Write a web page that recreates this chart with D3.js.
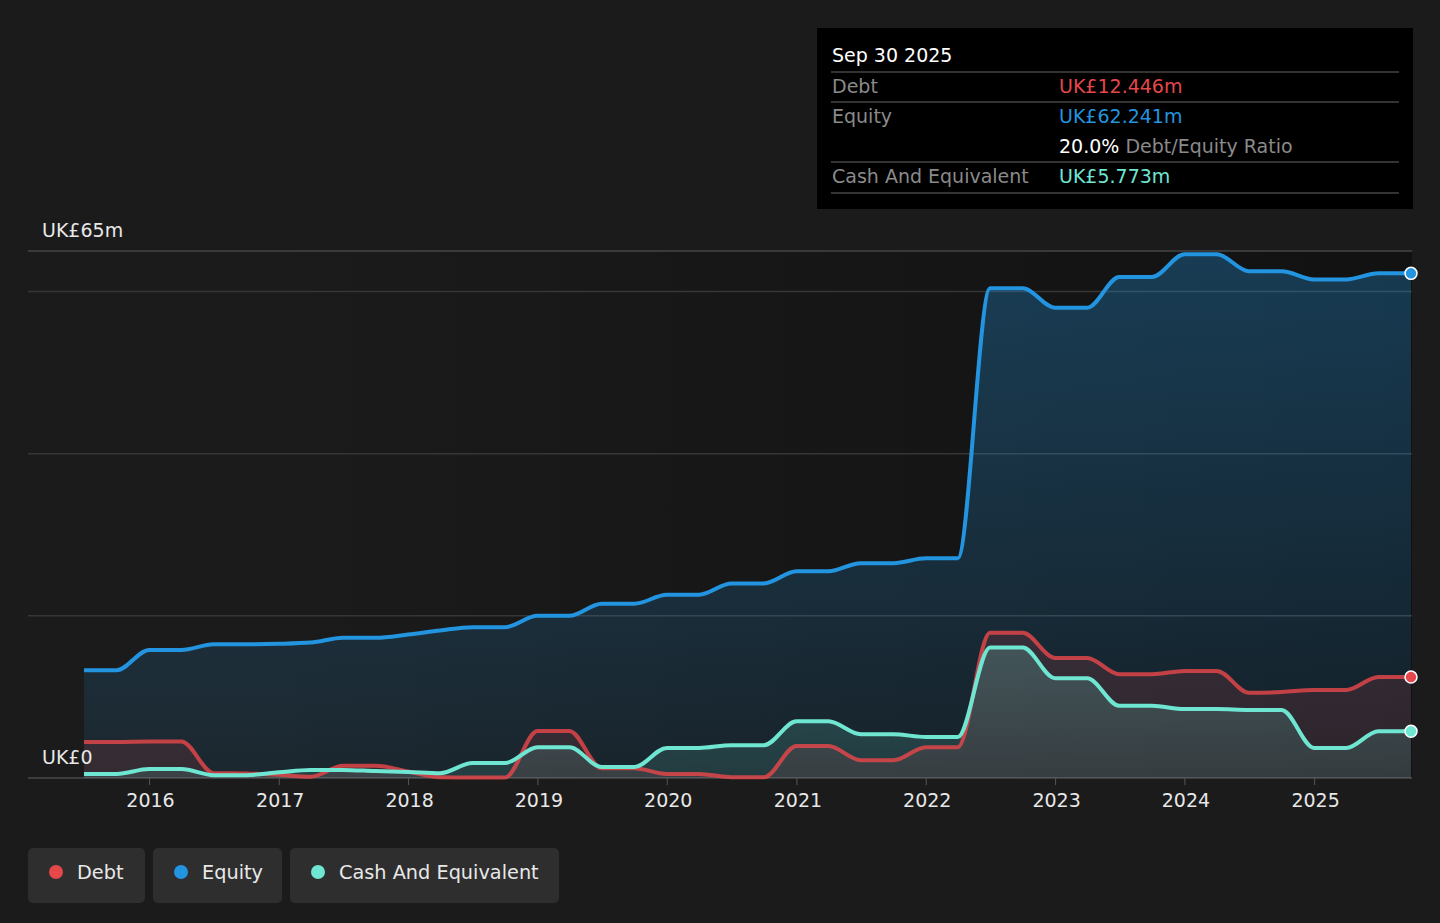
<!DOCTYPE html>
<html>
<head>
<meta charset="utf-8">
<script src="https://cdn.jsdelivr.net/npm/d3@7"></script>
<style>
  html, body { margin: 0; padding: 0; background: #1b1b1b; }
  svg { display: block; font-family: "DejaVu Sans", sans-serif; }
</style>
</head>
<body>
<svg id="chart" width="1440" height="923"></svg>
<script>
const dates = [
  "2015-06-30","2015-09-30","2015-12-31","2016-03-31","2016-06-30","2016-09-30",
  "2016-12-31","2017-03-31","2017-06-30","2017-09-30","2017-12-31","2018-03-31",
  "2018-06-30","2018-09-30","2018-12-31","2019-03-31","2019-06-30","2019-09-30",
  "2019-12-31","2020-03-31","2020-06-30","2020-09-30","2020-12-31","2021-03-31",
  "2021-06-30","2021-09-30","2021-12-31","2022-03-31","2022-06-30","2022-09-30",
  "2022-12-31","2023-03-31","2023-06-30","2023-09-30","2023-12-31","2024-03-31",
  "2024-06-30","2024-09-30","2024-12-31","2025-03-31","2025-06-30","2025-09-30"
];
const equity = [
  13.3, 13.3, 15.8, 15.8, 16.5, 16.5,
  16.55, 16.7, 17.3, 17.3, 17.7, 18.2,
  18.6, 18.6, 20.0, 20.0, 21.5, 21.5,
  22.6, 22.6, 24.0, 24.0, 25.5, 25.5,
  26.5, 26.5, 27.1, 27.1, 60.4, 60.4,
  58.0, 58.0, 61.8, 61.8, 64.6, 64.6,
  62.5, 62.5, 61.5, 61.5, 62.241, 62.241
];
const debt = [
  4.45, 4.45, 4.5, 4.5, 0.6, 0.55,
  0.4, 0.15, 1.5, 1.5, 0.8, 0.1,
  0.05, 0.05, 5.8, 5.8, 1.2, 1.2,
  0.5, 0.5, 0.1, 0.1, 3.95, 3.95,
  2.2, 2.2, 3.8, 3.8, 17.9, 17.9,
  14.8, 14.8, 12.8, 12.8, 13.2, 13.2,
  10.5, 10.6, 10.85, 10.85, 12.446, 12.446
];
const cash = [
  0.5, 0.5, 1.1, 1.1, 0.35, 0.35,
  0.7, 1.0, 1.0, 0.85, 0.75, 0.6,
  1.85, 1.85, 3.8, 3.8, 1.35, 1.35,
  3.7, 3.7, 4.05, 4.05, 7.0, 7.0,
  5.4, 5.4, 5.05, 5.05, 16.1, 16.1,
  12.3, 12.3, 8.9, 8.9, 8.5, 8.5,
  8.4, 8.4, 3.7, 3.7, 5.773, 5.773
];
const yearTicks = [2016, 2017, 2018, 2019, 2020, 2021, 2022, 2023, 2024, 2025];
const gridValues = [0, 20, 40, 60, 65];
const seriesNames = ["Debt", "Equity", "Cash And Equivalent"];
const colors = { Debt: "#e5474b", Equity: "#2394df", Cash: "#6fe6d2" };

const parse = d3.timeParse("%Y-%m-%d");
const dts = dates.map(parse);

const svg = d3.select("#chart");
const x = d3.scaleTime().domain([dts[0], dts[dts.length - 1]]).range([84, 1411]);
const y = d3.scaleLinear().domain([0, 65]).range([778, 251]);
const plotLeft = 28, plotRight = 1412;

const defs = svg.append("defs");
const bgGrad = defs.append("linearGradient").attr("id", "bgGrad")
  .attr("gradientUnits", "userSpaceOnUse").attr("x1", plotLeft).attr("x2", plotRight).attr("y1", 0).attr("y2", 0);
bgGrad.append("stop").attr("offset", "0").attr("stop-color", "#000").attr("stop-opacity", 0);
bgGrad.append("stop").attr("offset", "0.15").attr("stop-color", "#000").attr("stop-opacity", 0);
bgGrad.append("stop").attr("offset", "1").attr("stop-color", "#000").attr("stop-opacity", 0.36);

function vGrad(id, color, top, bottom) {
  const g = defs.append("linearGradient").attr("id", id)
    .attr("gradientUnits", "userSpaceOnUse").attr("x1", 0).attr("x2", 0).attr("y1", y(65)).attr("y2", y(0));
  g.append("stop").attr("offset", "0").attr("stop-color", color).attr("stop-opacity", top);
  g.append("stop").attr("offset", "1").attr("stop-color", color).attr("stop-opacity", bottom);
}
vGrad("eqGrad", colors.Equity, 0.32, 0.1);
vGrad("debtGrad", colors.Debt, 0.24, 0.12);
vGrad("cashGrad", colors.Cash, 0.5, 0.12);

// plot background
svg.append("rect").attr("x", plotLeft).attr("y", y(65)).attr("width", plotRight - plotLeft)
  .attr("height", y(0) - y(65)).attr("fill", "url(#bgGrad)");

// grid
svg.append("g").selectAll("line").data(gridValues).join("line")
  .attr("x1", plotLeft).attr("x2", plotRight)
  .attr("y1", d => y(d)).attr("y2", d => y(d))
  .attr("stroke", d => d === 0 ? "#4a4a4a" : (d === 65 ? "#464646" : "#363636"))
  .attr("stroke-width", 1.5);

const curve = d3.curveMonotoneX;
function areaOf(vals) {
  return d3.area().x((d, i) => x(dts[i])).y0(y(0)).y1(d => y(d)).curve(curve)(vals);
}
function lineOf(vals) {
  return d3.line().x((d, i) => x(dts[i])).y(d => y(d)).curve(curve)(vals);
}

svg.append("path").attr("d", areaOf(equity)).attr("fill", "url(#eqGrad)");
svg.append("path").attr("d", areaOf(debt)).attr("fill", "url(#debtGrad)");
svg.append("path").attr("d", areaOf(cash)).attr("fill", "url(#cashGrad)");

svg.append("path").attr("d", lineOf(equity)).attr("fill", "none")
  .attr("stroke", colors.Equity).attr("stroke-width", 4).attr("stroke-linejoin", "round");
svg.append("path").attr("d", lineOf(debt)).attr("fill", "none")
  .attr("stroke", colors.Debt).attr("stroke-opacity", 0.82).attr("stroke-width", 4).attr("stroke-linejoin", "round");
svg.append("path").attr("d", lineOf(cash)).attr("fill", "none")
  .attr("stroke", colors.Cash).attr("stroke-width", 4).attr("stroke-linejoin", "round");

// end dots
const last = dts.length - 1;
[[equity, colors.Equity], [debt, colors.Debt], [cash, colors.Cash]].forEach(([vals, c]) => {
  svg.append("circle").attr("cx", x(dts[last])).attr("cy", y(vals[last])).attr("r", 6)
    .attr("fill", c).attr("stroke", "#fff").attr("stroke-width", 1.5);
});

// x axis ticks
const ax = svg.append("g");
ax.selectAll("line").data(yearTicks).join("line")
  .attr("x1", d => x(new Date(d, 0, 1))).attr("x2", d => x(new Date(d, 0, 1)))
  .attr("y1", y(0)).attr("y2", y(0) + 7).attr("stroke", "#555").attr("stroke-width", 1);
ax.selectAll("text").data(yearTicks).join("text")
  .attr("x", d => x(new Date(d, 0, 1)) + 1).attr("y", 807)
  .attr("text-anchor", "middle").attr("fill", "#e8e8e8").attr("font-size", 19)
  .text(d => d);

// y labels
svg.append("text").attr("x", 42).attr("y", 237).attr("fill", "#e8e8e8").attr("font-size", 19).text("UK£65m");
svg.append("text").attr("x", 42).attr("y", 764).attr("fill", "#e8e8e8").attr("font-size", 19).text("UK£0");

// tooltip
const tt = svg.append("g");
tt.append("rect").attr("x", 817).attr("y", 28).attr("width", 596).attr("height", 181).attr("fill", "#000");
tt.append("text").attr("x", 832).attr("y", 62).attr("fill", "#fff").attr("font-size", 19).text("Sep 30 2025");
[72, 102, 162, 193].forEach(yy => {
  tt.append("line").attr("x1", 831).attr("x2", 1399).attr("y1", yy).attr("y2", yy)
    .attr("stroke", "#444").attr("stroke-width", 1.5);
});
const fmt = v => "UK£" + v.toFixed(3) + "m";
const rows = [
  { label: "Debt", value: fmt(debt[last]), color: colors.Debt, y: 93 },
  { label: "Equity", value: fmt(equity[last]), color: colors.Equity, y: 123 },
  { label: "Cash And Equivalent", value: fmt(cash[last]), color: colors.Cash, y: 183 }
];
rows.forEach(r => {
  tt.append("text").attr("x", 832).attr("y", r.y).attr("fill", "#8a8a8a").attr("font-size", 19).text(r.label);
  tt.append("text").attr("x", 1059).attr("y", r.y).attr("fill", r.color).attr("font-size", 19).text(r.value);
});
const ratio = tt.append("text").attr("x", 1059).attr("y", 153).attr("font-size", 19);
ratio.append("tspan").attr("fill", "#fff").text((debt[last] / equity[last] * 100).toFixed(1) + "% ");
ratio.append("tspan").attr("fill", "#8a8a8a").text("Debt/Equity Ratio");

// legend
const legendItems = [
  { name: seriesNames[0], color: colors.Debt, x: 28, w: 117 },
  { name: seriesNames[1], color: colors.Equity, x: 153, w: 129 },
  { name: seriesNames[2], color: colors.Cash, x: 290, w: 269 }
];
const lg = svg.append("g");
legendItems.forEach(it => {
  lg.append("rect").attr("x", it.x).attr("y", 848).attr("width", it.w).attr("height", 55)
    .attr("rx", 5).attr("fill", "#2e2e2e");
  lg.append("circle").attr("cx", it.x + 28).attr("cy", 872).attr("r", 7).attr("fill", it.color);
  lg.append("text").attr("x", it.x + 49).attr("y", 879).attr("fill", "#e8e8e8").attr("font-size", 19.3).text(it.name);
});
</script>
</body>
</html>
